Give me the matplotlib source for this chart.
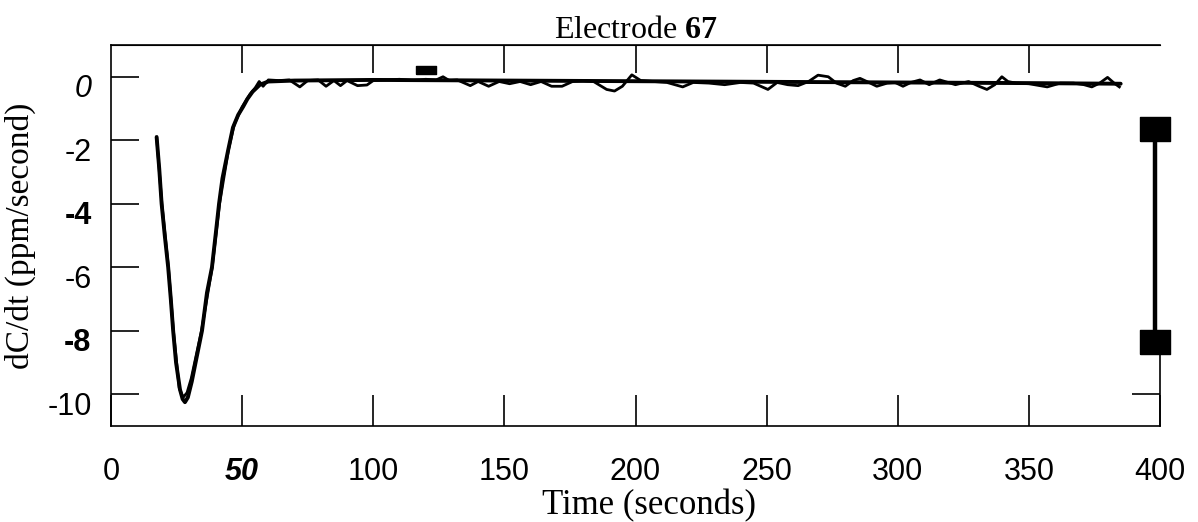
import matplotlib
matplotlib.use("Agg")
import matplotlib.pyplot as plt
import matplotlib.transforms as mtransforms
import numpy as np

# Fitted derivative curve (seconds, ppm/second)
time_fit = [17.4, 18.4, 19.3, 20.5, 21.8, 22.8, 23.7, 24.8, 26.3, 27.3, 28.2, 29.3,
            30.8, 32.5, 34.7, 36.6, 38.5, 40.0, 41.2, 42.5, 44.6, 46.5, 48.5, 50.4,
            52.0, 54.0, 56.8, 60.0, 70, 100, 150, 200, 250, 300, 350, 385]
dcdt_fit = [-1.9, -2.9, -4.0, -5.0, -6.0, -7.0, -8.0, -9.0, -9.85, -10.15, -10.25, -10.1,
            -9.6, -8.9, -8.0, -6.8, -6.0, -4.9, -4.0, -3.2, -2.34, -1.6, -1.2, -0.94,
            -0.7, -0.47, -0.25, -0.15, -0.12, -0.1, -0.12, -0.14, -0.16, -0.18, -0.2, -0.22]

# Measured derivative (seconds, ppm/second)
time_obs = [17.4, 19.4, 21.9, 23.8, 26.0, 27.5, 28.0, 29.0, 30.6, 34.5, 38.6, 41.4, 44.8,
            47.0, 50.0, 53.0, 55.0, 56.5, 58, 60, 64, 68, 72, 75, 79, 82, 85, 87.5, 90,
            94, 97.6, 100, 105, 110, 115, 120, 124, 126.6, 129, 132, 137, 140, 144, 148,
            152, 156, 160, 164, 168, 172, 176, 180, 184, 189, 192, 195, 198.6, 202, 207,
            212, 218, 222, 228, 234, 240, 245, 250.5, 254, 258, 262, 266, 269.6, 273.5,
            276.6, 280, 283, 285.6, 289, 292, 296, 299, 302, 305, 308.5, 312, 316, 320,
            322, 327, 331, 334, 337, 339.7, 342, 345, 350, 357, 362, 367, 371, 374, 377,
            380, 382.5, 384.5]
dcdt_obs = [-1.9, -4.0, -6.0, -8.0, -9.8, -10.1, -10.05, -9.95, -9.5, -8.0, -6.0, -4.0, -2.3,
            -1.5, -0.95, -0.55, -0.35, -0.15, -0.3, -0.1, -0.12, -0.1, -0.32, -0.12, -0.1,
            -0.3, -0.12, -0.28, -0.12, -0.28, -0.26, -0.12, -0.1, -0.08, -0.12, -0.08, -0.1,
            0.0, -0.12, -0.1, -0.28, -0.15, -0.3, -0.15, -0.22, -0.15, -0.25, -0.15, -0.3,
            -0.3, -0.15, -0.12, -0.15, -0.4, -0.45, -0.3, 0.06, -0.12, -0.15, -0.18, -0.32,
            -0.18, -0.2, -0.25, -0.18, -0.2, -0.4, -0.18, -0.25, -0.28, -0.15, 0.05, 0.0,
            -0.2, -0.3, -0.12, -0.05, -0.18, -0.3, -0.2, -0.18, -0.3, -0.18, -0.1, -0.25,
            -0.1, -0.2, -0.25, -0.15, -0.3, -0.4, -0.25, 0.0, -0.15, -0.2, -0.22, -0.32,
            -0.2, -0.2, -0.25, -0.32, -0.2, -0.02, -0.2, -0.32]

# Range bar on the right edge
range_time = [398, 398]
range_dcdt = [-1.66, -8.34]

# Small marker near the top
marker_time = [120]
marker_dcdt = [0.2]

x_ticks = [0, 50, 100, 150, 200, 250, 300, 350, 400]
x_tick_labels = ["0", "50", "100", "150", "200", "250", "300", "350", "400"]
y_ticks = [0, -2, -4, -6, -8, -10]
y_tick_labels = ["0", "-2", "-4", "-6", "-8", "-10"]
inner_x_ticks = [50, 100, 150, 200, 250, 300, 350]

plt.rcParams["mathtext.fontset"] = "custom"
plt.rcParams["mathtext.rm"] = "Liberation Serif"
plt.rcParams["mathtext.bf"] = "Liberation Serif:bold"

fig = plt.figure(figsize=(11.98, 5.22), dpi=100)
ax = fig.add_axes([111 / 1198, 1 - 426 / 522, (1160 - 111) / 1198, (426 - 45) / 522])

ax.plot(time_fit, dcdt_fit, color="black", lw=2.8, solid_capstyle="round",
        solid_joinstyle="round")
ax.plot(time_obs, dcdt_obs, color="black", lw=2.0, solid_joinstyle="round")

# range bar with rectangular end caps
rect_cap = [(-15, -11.5), (15, -11.5), (15, 11.5), (-15, 11.5), (-15, -11.5)]
ax.plot(range_time, range_dcdt, color="black", lw=3.2, marker=rect_cap,
        markersize=22, markerfacecolor="black", markeredgecolor="black",
        clip_on=False, zorder=5)

small_rect = [(-10, -3.5), (10, -3.5), (10, 3.5), (-10, 3.5), (-10, -3.5)]
ax.plot(marker_time, marker_dcdt, linestyle="none", marker=small_rect,
        markersize=14.5, color="black")

ax.set_xlim(0, 400)
ax.set_ylim(-11, 1)

for side in ["left", "bottom", "top", "right"]:
    ax.spines[side].set_linewidth(1.2)
ax.spines["right"].set_bounds(-11, -8.7)

ax.set_xticks(x_ticks, x_tick_labels)
ax.set_yticks(y_ticks, y_tick_labels)
ax.tick_params(axis="x", direction="in", length=22, width=1.2, pad=22)
ax.tick_params(axis="y", direction="in", length=20, width=1.2, pad=14)

for lab in ax.get_xticklabels():
    lab.set_fontfamily("Liberation Sans")
    lab.set_fontsize(22)
    if lab.get_text() == "50":
        lab.set_fontweight("bold")
        lab.set_fontstyle("italic")

shift = mtransforms.ScaledTranslation(0, -9 / 100, fig.dpi_scale_trans)
for lab in ax.get_yticklabels():
    lab.set_fontfamily("Liberation Sans")
    lab.set_fontsize(22)
    t = lab.get_text()
    if t == "0":
        lab.set_fontstyle("italic")
    if t in ("-4", "-8"):
        lab.set_fontweight("bold")
    lab.set_transform(lab.get_transform() + shift)

top = ax.secondary_xaxis("top")
top.set_xticks(inner_x_ticks, [""] * len(inner_x_ticks))
top.tick_params(direction="in", length=20, width=1.2)

right = ax.secondary_yaxis("right")
right.set_yticks([-10], [""])
right.tick_params(direction="in", length=20, width=1.2)
right.spines["right"].set_visible(False)

ax.set_xlabel("Time (seconds)", fontfamily="Liberation Serif", fontsize=25)
ax.xaxis.set_label_coords(0.513, -0.165)
ax.set_ylabel("dC/dt (ppm/second)", fontfamily="Liberation Serif", fontsize=24, labelpad=8)
ax.set_title(r"Electrode $\mathbf{67}$", fontfamily="Liberation Serif", fontsize=23, pad=3)

fig.savefig("out.png", dpi=100)
